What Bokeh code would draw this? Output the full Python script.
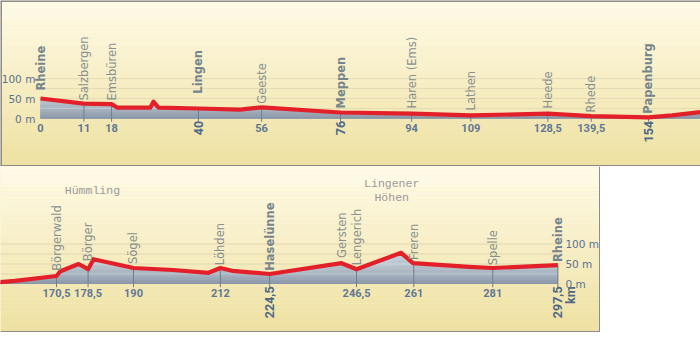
import numpy as np
from bokeh.plotting import figure
from bokeh.layouts import column
from bokeh.models import ColumnDataSource, BoxAnnotation, Span
from bokeh.core.properties import value
from bokeh.embed import file_html
from bokeh.resources import INLINE

# ---------------- data ----------------
profile_km = [0, 11, 18, 19.5, 27.8, 28.6, 29.9, 40, 50.6, 56, 76, 94, 109, 128.5, 139.5, 154,
              160, 170.5, 171.5, 176.1, 178.5, 179.9, 190, 200, 209, 212, 215, 224.5,
              242.7, 246.5, 257.8, 260.8, 275, 281, 297.5]
profile_elev = [50, 37, 36, 27, 27, 42, 27, 25, 22, 28, 15, 12, 8, 12, 6, 3,
                8, 20, 32, 50, 37, 62, 40, 35, 28, 40, 33, 25,
                52, 37, 78, 52, 43, 40, 47]

town_name = ["Rheine", "Salzbergen", "Emsbüren", "Lingen", "Geeste", "Meppen", "Haren (Ems)",
             "Lathen", "Heede", "Rhede", "Papenburg",
             "Börgerwald", "Börger", "Sögel", "Löhden", "Haselünne", "Gersten", "Lengerich",
             "Freren", "Spelle", "Rheine"]
town_km = [0, 11, 18, 40, 56, 76, 94, 109, 128.5, 139.5, 154,
           170.5, 178.5, 190, 212, 224.5, 242.7, 246.5, 261, 281, 297.5]
town_km_label = ["0", "11", "18", "40", "56", "76", "94", "109", "128,5", "139,5", "154",
                 "170,5", "178,5", "190", "212", "224,5", "", "246,5", "261", "281", "297,5\nkm"]
town_main = [True, False, False, True, False, True, False, False, False, False, True,
             False, False, False, False, True, False, False, False, False, True]

region_name = ["Hümmling", "Lingener\nHöhen"]
region_km = [179.6, 255.4]

elev_ticks = [100, 50, 0]
elev_tick_labels = ["100 m", "50 m", "0 m"]
grid_levels = [25, 50, 75, 100]

# ---------------- layout / style ----------------
PX_KM = 3.948
PX_M = 0.4
# label base heights (m) above which the rotated town names start
label_base = [70, 45, 45, 62, 37, 25, 25, 20, 25, 15, 12,
              33, 57, 50, 47, 33, 65, 47, 60, 47, 55]

km = np.array(profile_km, dtype=float)
el = np.array(profile_elev, dtype=float)
tkm = np.array(town_km, dtype=float)
tel = np.interp(tkm, km, el)


def lerp_hex(c1, c2, t):
    a = [int(c1[i:i + 2], 16) for i in (1, 3, 5)]
    b = [int(c2[i:i + 2], 16) for i in (1, 3, 5)]
    return "#%02x%02x%02x" % tuple(int(round(a[i] + (b[i] - a[i]) * t)) for i in range(3))


def make_panel(x0, width, zero_px, height, side):
    x1 = x0 + width / PX_KM
    y1 = zero_px / PX_M
    y0 = -(height - zero_px) / PX_M
    p = figure(width=width, height=height, x_range=(x0, x1), y_range=(y0, y1),
               output_backend="svg", toolbar_location=None,
               x_axis_location=None, y_axis_location=None,
               min_border=0, min_border_left=0, min_border_right=0,
               min_border_top=0, min_border_bottom=0,
               outline_line_color=None, border_fill_color="white",
               background_fill_color="#f6ecc0")
    p.xgrid.grid_line_color = None
    p.ygrid.grid_line_color = None

    # background gradient
    n = 40
    for i in range(n):
        b = y0 + (y1 - y0) * i / n
        t = y0 + (y1 - y0) * (i + 1) / n
        c = lerp_hex("#eee0a0", "#fffbe8", (i + 0.5) / n)
        p.add_layout(BoxAnnotation(bottom=b, top=t, fill_color=c, fill_alpha=1,
                                   line_color=None, level="underlay"))

    # grid under fill
    p.segment(x0=[km[0]] * len(grid_levels), y0=grid_levels,
              x1=[km[-1]] * len(grid_levels), y1=grid_levels,
              line_color="#dccf9a", line_width=1)

    # layered fill to imitate gradient
    levels = [1000, 60, 45, 35, 25, 17, 10, 4]
    cols = ["#c2cbd5", "#bbc5cf", "#b3bec9", "#abb7c3", "#a3afbc", "#9ba7b5", "#939fae", "#8a97a6"]
    for lv, c in zip(levels, cols):
        p.varea(x=km, y1=np.zeros_like(el), y2=np.minimum(el, lv), fill_color=c)

    # pale grid over fill
    p.segment(x0=[km[0]] * len(grid_levels), y0=grid_levels,
              x1=[km[-1]] * len(grid_levels), y1=grid_levels,
              line_color="white", line_alpha=0.28, line_width=1)

    # town tick lines
    sel = [i for i in range(len(tkm)) if x0 <= tkm[i] <= x1]
    tick_sel = [i for i in sel if town_km_label[i] != "" and tkm[i] > 0]
    p.segment(x0=tkm[tick_sel], y0=[-8] * len(tick_sel), x1=tkm[tick_sel], y1=tel[tick_sel],
              line_color="#6f7d8d", line_width=1)

    # profile line
    p.line(km, el, line_color="#e3202a", line_width=4.2, line_join="round")

    # town names
    for main in (False, True):
        ids = [i for i in sel if town_main[i] == main]
        src = ColumnDataSource(dict(x=tkm[ids], y=[label_base[i] for i in ids],
                                    t=[town_name[i] for i in ids]))
        p.text(x="x", y="y", text="t", source=src, angle=np.pi / 2,
               text_align="left", text_baseline="middle",
               text_font=value("DejaVu Sans"), text_font_size="11.5px",
               text_font_style="bold" if main else "normal",
               text_color="#76858c" if main else "#879090")

    # km labels (horizontal)
    ids = [i for i in sel if (not town_main[i] or tkm[i] == 0) and town_km_label[i] != ""]
    src = ColumnDataSource(dict(x=tkm[ids], y=[-23] * len(ids), t=[town_km_label[i] for i in ids]))
    p.text(x="x", y="y", text="t", source=src, text_align="center", text_baseline="middle",
           text_font=value("Roboto"), text_font_size="11px",
           text_font_style="bold", text_color="#5f7796")
    # km labels (rotated, main towns)
    ids = [i for i in sel if town_main[i] and tkm[i] > 0]
    single = [i for i in ids if "\n" not in town_km_label[i]]
    multi = [i for i in ids if "\n" in town_km_label[i]]
    src = ColumnDataSource(dict(x=tkm[single], y=[-6] * len(single),
                                t=[town_km_label[i] for i in single]))
    p.text(x="x", y="y", text="t", source=src, angle=np.pi / 2,
           text_align="right", text_baseline="middle",
           text_font=value("Roboto"), text_font_size="12.5px",
           text_font_style="bold", text_color="#4f6788")
    if multi:
        src = ColumnDataSource(dict(x=tkm[multi], y=[-6] * len(multi),
                                    t=[town_km_label[i] for i in multi]))
        p.text(x="x", y="y", text="t", source=src, angle=np.pi / 2,
               text_align="right", text_baseline="middle", x_offset=6,
               text_font=value("Roboto"), text_font_size="12.5px",
               text_font_style="bold", text_color="#4f6788", text_line_height=0.85)

    # elevation labels
    if side == "left":
        p.text(x=[-1.3] * 3, y=elev_ticks, text=elev_tick_labels, text_align="right",
               text_baseline="middle", text_font=value("DejaVu Sans"), text_font_size="10.5px",
               text_color="#5b7291")
    else:
        p.text(x=[299.4] * 3, y=elev_ticks, text=elev_tick_labels, text_align="left",
               text_baseline="middle", text_font=value("DejaVu Sans"), text_font_size="10.5px",
               text_color="#5b7291")
    return p, (x0, x1, y0, y1)


p1, (ax0, ax1, ay0, ay1) = make_panel(-40 / PX_KM, 700, 118, 166, "left")
for loc, dim in ((ax0, "height"), (ay1, "width"), (ay0, "width")):
    p1.add_layout(Span(location=loc, dimension=dim, line_color="#8d8d8d", line_width=3))

p2, (bx0, bx1, by0, by1) = make_panel(170.5 - 56 / PX_KM, 600, 117.5, 166, "right")
for loc, dim in ((bx1, "height"), (by0, "width")):
    p2.add_layout(Span(location=loc, dimension=dim, line_color="#8d8d8d", line_width=3))

p2.text(x=region_km, y=[234, 234], text=region_name, text_align="center", text_baseline="middle",
        text_font=value("Liberation Mono"), text_font_size="11.5px", text_color="#9a9a9a",
        text_line_height=1.05)

layout = column(p1, p2, spacing=0)
open("out.html", "w").write(file_html(layout, INLINE))
